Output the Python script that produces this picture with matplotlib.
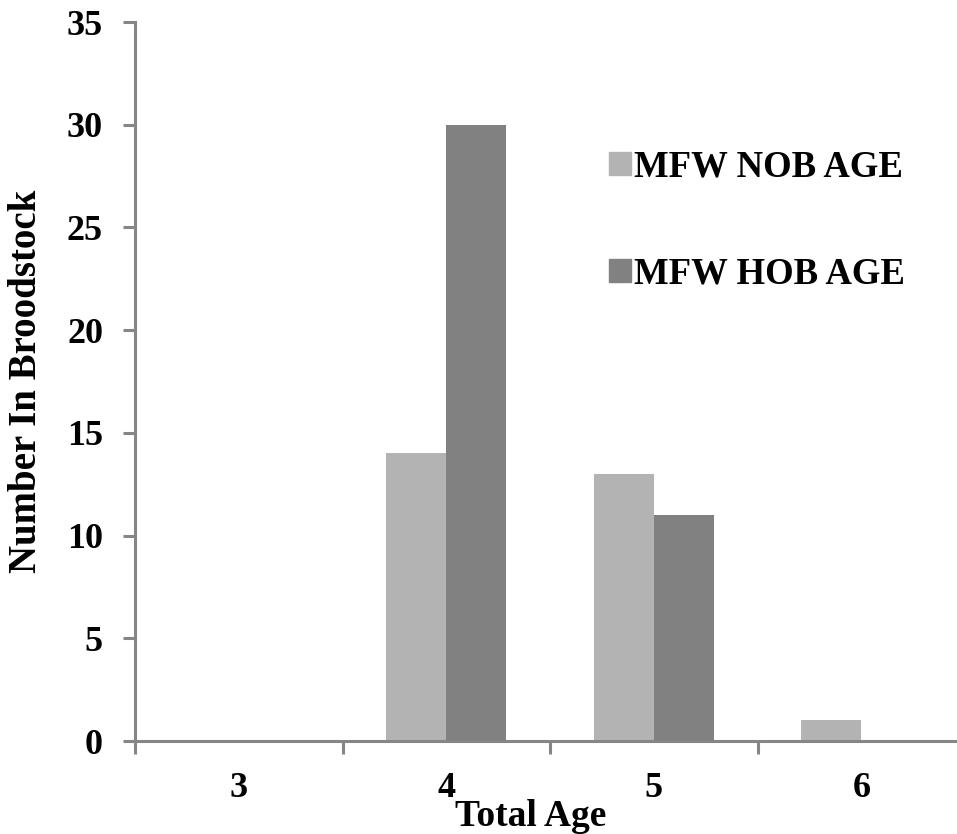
import numpy as np
import matplotlib.pyplot as plt
from matplotlib.patches import Patch

#data
ages = ["3", "4", "5", "6"]
nob_age = [0, 14, 13, 1]
hob_age = [0, 30, 11, 0]
labels = ["MFW NOB AGE", "MFW HOB AGE"]

plt.rcParams["font.family"] = ["Liberation Serif", "DejaVu Serif"]
plt.rcParams["font.weight"] = "bold"

axis_grey = "#868686"
c_nob = "#b3b3b3"
c_hob = "#818181"

fig = plt.figure(figsize=(9.57, 8.34), dpi=100)
ax = fig.add_axes([135 / 957, 1 - 741 / 834, 830 / 957, 719 / 834])

x = np.arange(len(ages))
w = 0.29
ax.bar(x - w / 2, nob_age, width=w, color=c_nob, label=labels[0])
ax.bar(x + w / 2, hob_age, width=w, color=c_hob, label=labels[1])

ax.set_xlim(-0.5, len(ages) - 0.5)
ax.set_ylim(0, 35)

#spines
for s in ["top", "right"]:
    ax.spines[s].set_visible(False)
for s in ["left", "bottom"]:
    ax.spines[s].set_color(axis_grey)
    ax.spines[s].set_linewidth(2.2)

#y ticks
ax.set_yticks(np.arange(0, 36, 5))
ax.tick_params(axis="y", direction="out", length=9, width=2.2, color=axis_grey,
               pad=14, labelsize=26)

#x ticks: marks between categories, labels at centres
ax.set_xticks(np.arange(-0.5, len(ages), 1.0))
ax.set_xticklabels([])
ax.set_xticks(x, minor=True)
ax.set_xticklabels(ages, minor=True)
ax.tick_params(axis="x", which="major", direction="out", length=9, width=2.2, color=axis_grey)
ax.tick_params(axis="x", which="minor", length=0, pad=22, labelsize=26)

ax.set_ylabel("Number In Broodstock", fontsize=28, fontweight="bold", labelpad=16)
# x label sits just under the "4"/"5" tick labels, a bit left of centre
fig.text(531 / 957, 1 - 816 / 834, "Total Age", fontsize=27, fontweight="bold",
         ha="center", va="center")

handles = [Patch(color=c_nob), Patch(color=c_hob)]
fig.legend(handles, labels, loc="upper left", bbox_to_anchor=(594 / 957, 1 - 135 / 834),
           frameon=False, fontsize=26.5, handlelength=0.6, handleheight=0.6,
           handletextpad=0.1, labelspacing=1.95, borderaxespad=0)

plt.savefig("out.png", dpi=100)
